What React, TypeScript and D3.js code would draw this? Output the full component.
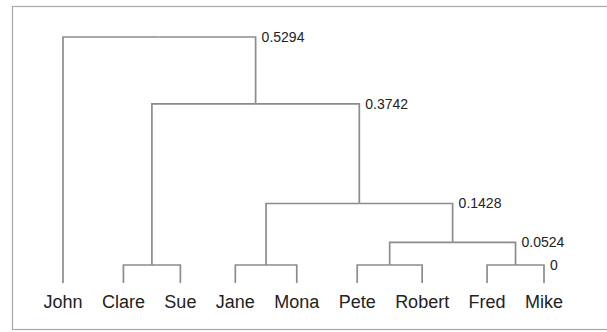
import { useMemo } from "react";
import * as d3 from "d3";

const WIDTH = 607;
const HEIGHT = 332;
const FONT = '"Liberation Sans", Arial, Helvetica, sans-serif';
const LEAF_FONT_SIZE = 18;
const NODE_FONT_SIZE = 14;
const LEAF_GAP = 19.5; // space between neighbouring leaf labels
const LEAF_STUB = 18; // leaves hang below the zero level
const LEAF_X = [63, 544];
const Y_RANGE = [265, 37];

// leaves, left to right
const LEAVES = ["John", "Clare", "Sue", "Jane", "Mona", "Pete", "Robert", "Fred", "Mike"];

// cluster id, left child, right child
const MERGES = [
  ["C1", "Clare", "Sue"],
  ["C2", "Jane", "Mona"],
  ["C3", "Pete", "Robert"],
  ["C4", "Fred", "Mike"],
  ["C5", "C3", "C4"],
  ["C6", "C2", "C5"],
  ["C7", "C1", "C6"],
  ["C8", "John", "C7"],
];

// merge heights, same order as MERGES
const HEIGHTS = [0, 0, 0, 0, 0.0524, 0.1428, 0.3742, 0.5294];

type TreeNode = { name: string; height: number; children?: TreeNode[] };

const buildTree = (): TreeNode => {
  const nodes: Record<string, TreeNode> = {};
  LEAVES.forEach((name) => (nodes[name] = { name, height: 0 }));
  MERGES.forEach(([id, a, b], i) => {
    nodes[id] = { name: id, height: HEIGHTS[i], children: [nodes[a], nodes[b]] };
  });
  return nodes[MERGES[MERGES.length - 1][0]];
};

const measure = (() => {
  const ctx = document.createElement("canvas").getContext("2d")!;
  ctx.font = `${LEAF_FONT_SIZE}px ${FONT}`;
  return (s: string) => ctx.measureText(s).width;
})();

export default function App() {
  const { links, labels, leaves, yScale } = useMemo(() => {
    const root = d3.hierarchy(buildTree());

    // spread leaves according to the width of their labels
    d3
      .cluster<TreeNode>()
      .nodeSize([1, 1])
      .separation((a, b) => (measure(a.data.name) + measure(b.data.name)) / 2 + LEAF_GAP)(root);

    const leaves = root.leaves();
    const xScale = d3
      .scaleLinear()
      .domain(d3.extent(leaves, (d) => d.x as number) as [number, number])
      .range(LEAF_X);

    const yScale = d3
      .scaleLinear()
      .domain([0, d3.max(HEIGHTS) as number])
      .range(Y_RANGE);

    const px = (d: d3.HierarchyNode<TreeNode>) => xScale((d as any).x);
    const py = (d: d3.HierarchyNode<TreeNode>) =>
      d.children ? yScale(d.data.height) : yScale(0) + LEAF_STUB;

    const links = root
      .descendants()
      .filter((d) => d.parent)
      .map((d) => ({
        key: d.data.name,
        path: `M${px(d)},${py(d)}V${py(d.parent!)}H${px(d.parent!)}`,
      }));

    // one label per distinct height, at the right end of the rightmost merge
    const seen = new Set<number>();
    const labels = root
      .descendants()
      .filter((d) => d.children)
      .sort((a, b) => px(b) - px(a))
      .filter((d) => {
        if (seen.has(d.data.height)) return false;
        seen.add(d.data.height);
        return true;
      })
      .map((d) => ({
        key: d.data.name,
        x: px(d.children![1]),
        y: py(d),
        text: String(d.data.height),
      }));

    return {
      links,
      labels,
      leaves: leaves.map((d) => ({ name: d.data.name, x: px(d), y: py(d) })),
      yScale,
    };
  }, []);

  return (
    <svg
      width={WIDTH}
      height={HEIGHT}
      style={{ position: "absolute", left: 0, top: 0, background: "#fff" }}
      fontFamily={FONT}
    >
      <rect x={12.5} y={6.5} width={620} height={323} fill="none" stroke="#a8a8a8" strokeWidth={1.2} />
      <g fill="none" stroke="#8c8c8c" strokeWidth={1.7}>
        {links.map((l) => (
          <path key={l.key} d={l.path} />
        ))}
      </g>
      <g fontSize={NODE_FONT_SIZE} fill="#222">
        {labels.map((l) => (
          <text key={l.key} x={l.x + 6} y={l.y} dominantBaseline="central">
            {l.text}
          </text>
        ))}
      </g>
      <g fontSize={LEAF_FONT_SIZE} fill="#222" textAnchor="middle">
        {leaves.map((l) => (
          <text key={l.name} x={l.x} y={l.y + 25}>
            {l.name}
          </text>
        ))}
      </g>
    </svg>
  );
}
